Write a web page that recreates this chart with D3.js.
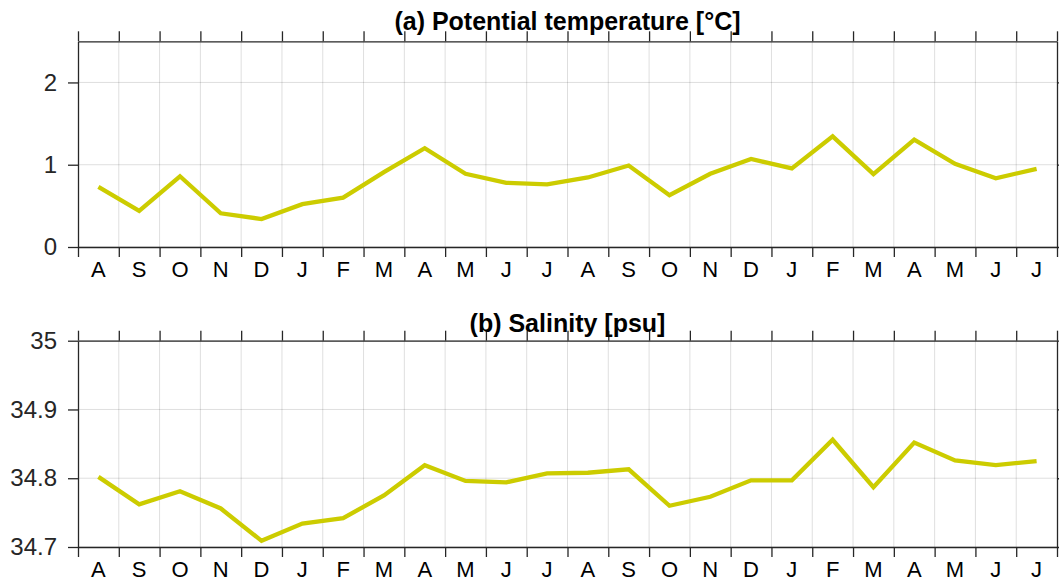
<!DOCTYPE html>
<html>
<head>
<meta charset="utf-8">
<script src="https://cdn.jsdelivr.net/npm/d3@7"></script>
<style>
  body { margin: 0; background: #fff; }
  svg { display: block; font-family: "Liberation Sans", Arial, Helvetica, sans-serif; }
</style>
</head>
<body>
<svg id="chart" width="1059" height="581"></svg>
<script>
// Monthly series, August through July of the following year (24 months)
const months = ["A","S","O","N","D","J","F","M","A","M","J","J",
                "A","S","O","N","D","J","F","M","A","M","J","J"];

const temperature = [0.73, 0.44, 0.86, 0.41, 0.34, 0.52, 0.60, 0.91, 1.20, 0.89, 0.78, 0.76,
                     0.845, 0.99, 0.63, 0.89, 1.07, 0.955, 1.345, 0.885, 1.305, 1.01, 0.835, 0.95];

const salinity = [34.802, 34.762, 34.781, 34.756, 34.709, 34.734, 34.742, 34.775, 34.819, 34.796, 34.794, 34.807,
                  34.808, 34.813, 34.760, 34.773, 34.797, 34.797, 34.856, 34.787, 34.852, 34.826, 34.819, 34.825];

const tempTicks = [0, 1, 2];
const salTicks = [34.7, 34.8, 34.9, 35];

const svg = d3.select("#chart");
const left = 78, right = 1057;
const axisColor = "#262626";
const lineColor = "#cccc00";

const x = d3.scaleLinear().domain([0, months.length]).range([left, right]);
const monthBounds = d3.range(months.length + 1);

function panel(cfg) {
  const y = d3.scaleLinear().domain(cfg.domain).range([cfg.bottom, cfg.top]);
  const g = svg.append("g");

  // grid
  g.append("g").selectAll("line").data(monthBounds.slice(1, -1)).join("line")
    .attr("x1", d => x(d)).attr("x2", d => x(d))
    .attr("y1", cfg.top).attr("y2", cfg.bottom)
    .attr("stroke", "#000").attr("stroke-opacity", 0.13).attr("stroke-width", 1);
  g.append("g").selectAll("line").data(cfg.ticks).join("line")
    .attr("x1", left).attr("x2", right)
    .attr("y1", d => y(d)).attr("y2", d => y(d))
    .attr("stroke", "#000").attr("stroke-opacity", 0.13).attr("stroke-width", 1);

  // series
  const line = d3.line().x((d, i) => x(i + 0.5)).y(d => y(d));
  g.append("path").datum(cfg.values)
    .attr("d", line)
    .attr("fill", "none")
    .attr("stroke", lineColor)
    .attr("stroke-width", 4.3)
    .attr("stroke-linejoin", "miter");

  // axes (box with outward ticks)
  const styleAxis = sel => {
    sel.selectAll("path.domain").attr("stroke", axisColor).attr("stroke-width", 1.3);
    sel.selectAll(".tick line").attr("stroke", axisColor).attr("stroke-width", 1.3);
  };

  g.append("g").attr("transform", `translate(0,${cfg.bottom})`)
    .call(d3.axisBottom(x).tickValues(monthBounds).tickSize(10).tickSizeOuter(0).tickFormat(""))
    .call(styleAxis);
  g.append("g").attr("transform", `translate(0,${cfg.top})`)
    .call(d3.axisTop(x).tickValues(monthBounds).tickSize(10).tickSizeOuter(0).tickFormat(""))
    .call(styleAxis);
  g.append("g").attr("transform", `translate(${right},0)`)
    .call(d3.axisRight(y).tickValues(cfg.ticks).tickSize(10).tickSizeOuter(0).tickFormat(""))
    .call(styleAxis);
  const ya = g.append("g").attr("transform", `translate(${left},0)`)
    .call(d3.axisLeft(y).tickValues(cfg.ticks).tickSize(10).tickSizeOuter(0).tickPadding(11).tickFormat(cfg.fmt))
    .call(styleAxis);
  ya.selectAll("text")
    .attr("fill", axisColor)
    .style("font-size", "24px")
    .style("font-family", "'Liberation Sans', Arial, sans-serif");

  // month labels centred in each month
  g.append("g").selectAll("text").data(months).join("text")
    .attr("x", (d, i) => x(i + 0.5))
    .attr("y", cfg.bottom + 29.5)
    .attr("text-anchor", "middle")
    .attr("fill", "#000")
    .style("font-size", "22px")
    .text(d => d);

  // title
  g.append("text")
    .attr("x", (left + right) / 2)
    .attr("y", cfg.titleY)
    .attr("text-anchor", "middle")
    .attr("font-weight", "bold")
    .attr("fill", "#000")
    .style("font-size", "25px")
    .text(cfg.title);
}

panel({
  top: 41.3, bottom: 247,
  domain: [0, 2.5],
  ticks: tempTicks,
  fmt: d3.format("d"),
  values: temperature,
  title: "(a) Potential temperature [°C]",
  titleY: 30
});

panel({
  top: 340.7, bottom: 547,
  domain: [34.7, 35],
  ticks: salTicks,
  fmt: d => (Math.round(d * 10) / 10).toString(),
  values: salinity,
  title: "(b) Salinity [psu]",
  titleY: 331.5
});
</script>
</body>
</html>
